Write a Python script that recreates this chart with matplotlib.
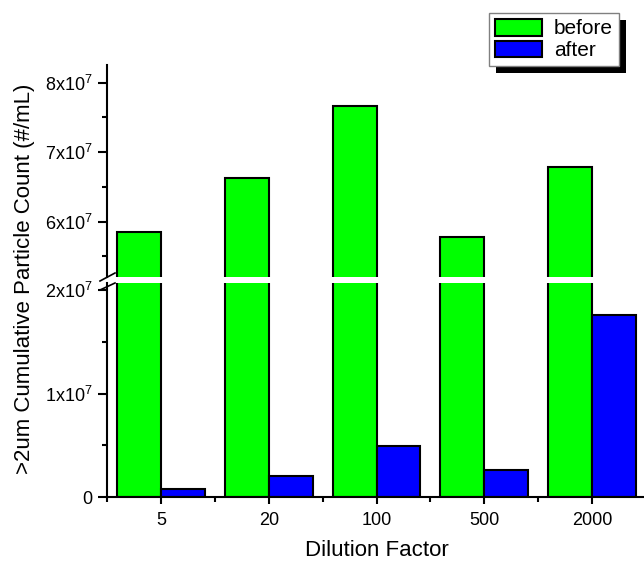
import numpy as np
import matplotlib
matplotlib.use('Agg')
import matplotlib.pyplot as plt
from matplotlib.patches import Rectangle
from matplotlib.lines import Line2D

plt.rcParams['font.family'] = ['Liberation Sans', 'DejaVu Sans']
plt.rcParams['mathtext.fontset'] = 'custom'
plt.rcParams['mathtext.rm'] = 'Liberation Sans'
plt.rcParams['mathtext.default'] = 'regular'

# data
dilution = ['5', '20', '100', '500', '2000']
before = [5.85e7, 6.63e7, 7.66e7, 5.78e7, 6.79e7]
after = [0.074e7, 0.203e7, 0.493e7, 0.261e7, 1.758e7]

top_ticks = [6e7, 7e7, 8e7]
top_labels = ['6x10$^{7}$', '7x10$^{7}$', '8x10$^{7}$']
bot_ticks = [0, 1e7, 2e7]
bot_labels = ['0', '1x10$^{7}$', '2x10$^{7}$']

W, H = 644, 562
fig = plt.figure(figsize=(W / 100, H / 100), dpi=100)

# pixel -> figure fraction
def fx(px):
    return px / W

def fy(py):
    return 1 - py / H

left, right = 107, 646
ax_top = fig.add_axes([fx(left), fy(277), fx(right - left), (277 - 65) / H])
ax_bot = fig.add_axes([fx(left), fy(497), fx(right - left), (497 - 283) / H])

x = np.arange(len(dilution))
w = 0.407
for ax in (ax_top, ax_bot):
    ax.bar(x - w, before, w, align='edge', color='#00ff00', edgecolor='black', lw=1.5, label='before')
    ax.bar(x, after, w, align='edge', color='#0000ff', edgecolor='black', lw=1.5, label='after')
    ax.set_xlim(-0.5, 4.5)
    ax.spines['top'].set_visible(False)
    ax.spines['right'].set_visible(False)
    ax.spines['left'].set_linewidth(1.5)
    ax.spines['bottom'].set_linewidth(1.5)
    ax.tick_params(axis='y', which='major', length=6.5, width=1.5, labelsize=13, pad=4)
    ax.tick_params(axis='y', which='minor', length=3.5, width=1.5)

# upper part
ax_top.set_ylim(5.204e7, 8.255e7)
ax_top.set_yticks(top_ticks)
ax_top.set_yticklabels(top_labels)
ax_top.set_yticks([5.5e7, 6.5e7, 7.5e7], minor=True)
ax_top.spines['bottom'].set_visible(False)
ax_top.set_xticks([])

# lower part
ax_bot.set_ylim(0, 2.068e7)
ax_bot.set_yticks(bot_ticks)
ax_bot.set_yticklabels(bot_labels)
ax_bot.set_yticks([0.5e7, 1.5e7], minor=True)
ax_bot.set_xticks(x)
ax_bot.set_xticklabels(dilution)
ax_bot.set_xticks(np.arange(-0.5, 5, 1), minor=True)
ax_bot.tick_params(axis='x', which='major', length=5, width=1.5, labelsize=13, pad=6)
ax_bot.tick_params(axis='x', which='minor', length=3.5, width=1.5)

# axis labels
fig.text(fx((left + right) / 2), fy(556.5), 'Dilution Factor', fontsize=16, ha='center', va='baseline')
fig.text(fx(25), fy(279), '>2um Cumulative Particle Count (#/mL)', fontsize=16,
         rotation=90, ha='center', va='center')

# break marks
fig.add_artist(Line2D([fx(100), fx(115)], [fy(281), fy(273)], color='black', lw=1.2))
fig.add_artist(Line2D([fx(100), fx(115)], [fy(290), fy(283)], color='black', lw=1.2))

# legend with hard black shadow
handles, labels = ax_bot.get_legend_handles_labels()
leg = fig.legend(handles, labels, loc='upper left', bbox_to_anchor=(fx(489), fy(13)),
                 bbox_transform=fig.transFigure, fontsize=15, fancybox=False,
                 edgecolor='gray', framealpha=1, borderpad=0.28, handlelength=2.25,
                 handleheight=0.87, handletextpad=0.58, labelspacing=0.1, borderaxespad=0)
leg.get_frame().set_linewidth(1.0)
fig.canvas.draw()
bb = leg.get_window_extent().transformed(fig.transFigure.inverted())
fig.add_artist(Rectangle((bb.x0 + fx(7), bb.y0 - 7 / H), bb.width, bb.height,
                         transform=fig.transFigure, facecolor='black', edgecolor='none',
                         zorder=leg.get_zorder() - 1))

plt.savefig('out.png', dpi=100)
